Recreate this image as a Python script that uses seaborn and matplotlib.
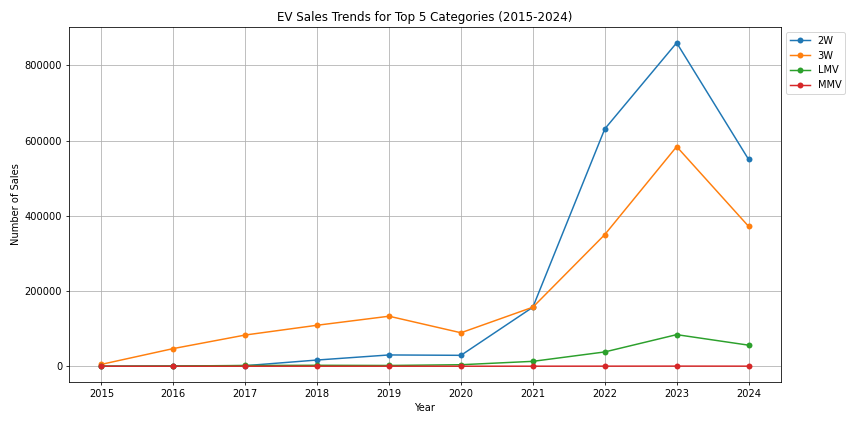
import pandas as pd
import seaborn as sns
import matplotlib.pyplot as plt

years = list(range(2015, 2025))
sales_2w = [0, 500, 1500, 16500, 30000, 29000, 157000, 631000, 860000, 550000]
sales_3w = [5000, 47000, 83000, 109000, 133000, 89000, 157000, 350000, 584000, 372000]
sales_lmv = [0, 500, 2000, 2500, 2000, 4000, 13000, 38000, 84000, 56000]
sales_mmv = [0, 0, 50, 100, 100, 50, 100, 200, 300, 200]

data = pd.DataFrame({
    "Year": years * 4,
    "Sales": sales_2w + sales_3w + sales_lmv + sales_mmv,
    "Category": ["2W"] * 10 + ["3W"] * 10 + ["LMV"] * 10 + ["MMV"] * 10,
})

dpi = 856 / 12
fig, ax = plt.subplots(figsize=(12, 424 / dpi), dpi=dpi)
for cat, grp in data.groupby("Category"):
    sns.lineplot(data=grp, x="Year", y="Sales", marker="o", markeredgewidth=0,
                 label=cat, ax=ax)

ax.set_title("EV Sales Trends for Top 5 Categories (2015-2024)", fontsize=12)
ax.set_xlabel("Year")
ax.set_ylabel("Number of Sales")
ax.set_xticks(years)
ax.grid(True)
ax.legend(loc="upper left", bbox_to_anchor=(1, 1))
plt.tight_layout()
plt.savefig("out.png", dpi=dpi)
